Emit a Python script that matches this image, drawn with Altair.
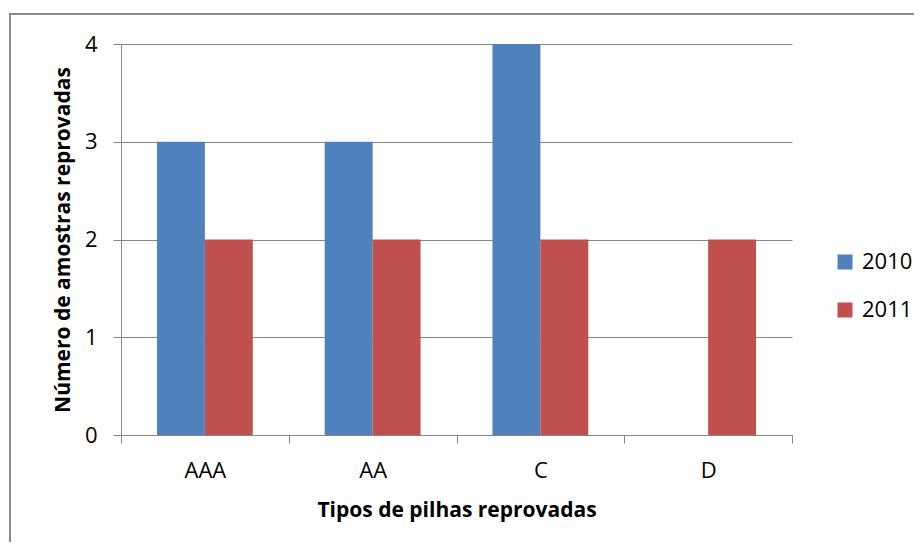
import altair as alt
import pandas as pd

categories = ["AAA", "AA", "C", "D"]
series = ["2010", "2011"]
values_2010 = [3, 3, 4, 0]
values_2011 = [2, 2, 2, 2]
colors = ["#4F81BD", "#C0504D"]
y_ticks = [0, 1, 2, 3, 4]

rows = []
for i, c in enumerate(categories):
    rows.append({"tipo": c, "ano": series[0], "n": values_2010[i]})
    rows.append({"tipo": c, "ano": series[1], "n": values_2011[i]})
df = pd.DataFrame(rows)

W, H = 671, 391
FONT = "Open Sans"
GRAY = "#868686"
LSIZE = 22

bars = alt.Chart(df).mark_bar().encode(
    x=alt.X(
        "tipo:N",
        sort=categories,
        scale=alt.Scale(paddingInner=0, paddingOuter=0),
        axis=alt.Axis(
            title="Tipos de pilhas reprovadas",
            labelAngle=0,
            tickBand="extent",
            tickSize=8,
            tickColor=GRAY,
            domainColor=GRAY,
            grid=False,
            labelBaseline="middle",
            labelPadding=27,
            labelFont=FONT,
            labelFontSize=LSIZE,
            labelColor="#000000",
            titleFont=FONT,
            titleFontSize=21,
            titleFontWeight="bold",
            titleColor="#000000",
            titleX=W / 2,
            titleY=75,
            titleBaseline="middle",
            titleAlign="center",
        ),
    ),
    xOffset=alt.XOffset(
        "ano:N", sort=series, scale=alt.Scale(paddingInner=0, paddingOuter=0.75)
    ),
    y=alt.Y(
        "n:Q",
        scale=alt.Scale(domain=[0, 4], nice=False),
        axis=alt.Axis(
            title="Número de amostras reprovadas",
            values=y_ticks,
            tickSize=8,
            tickColor=GRAY,
            domainColor=GRAY,
            gridColor=GRAY,
            labelPadding=16,
            labelFont=FONT,
            labelFontSize=LSIZE,
            labelColor="#000000",
            titleFont=FONT,
            titleFontSize=21,
            titleFontWeight="bold",
            titleColor="#000000",
            titleAngle=270,
            titleX=-58,
            titleY=H / 2,
            titleBaseline="middle",
            titleAlign="center",
        ),
    ),
    color=alt.Color(
        "ano:N",
        scale=alt.Scale(domain=series, range=colors),
        legend=alt.Legend(
            title=None,
            orient="none",
            legendX=713,
            legendY=207,
            symbolType="square",
            symbolSize=225,
            symbolStrokeWidth=0,
            labelFont=FONT,
            labelFontSize=LSIZE,
            labelColor="#000000",
            labelOffset=6,
            rowPadding=26,
            padding=0,
        ),
    ),
)

one = pd.DataFrame({"k": [0]})
border_top = alt.Chart(one).mark_rule(color="#8C8C8C", strokeWidth=2).encode(
    x=alt.value(-112), x2=alt.value(W + 122), y=alt.value(-30)
)
border_left = alt.Chart(one).mark_rule(color="#8C8C8C", strokeWidth=2).encode(
    x=alt.value(-111), y=alt.value(-31), y2=alt.value(H + 107)
)

chart = (
    alt.layer(border_top, border_left, bars)
    .properties(
        width=W,
        height=H,
        autosize=alt.AutoSizeParams(type="none"),
        padding={"left": 113, "top": 36, "right": 122, "bottom": 107},
        background="#FFFFFF",
    )
    .configure_view(stroke=None)
)

chart.save("out.html", embed_options={"renderer": "svg", "actions": False})
